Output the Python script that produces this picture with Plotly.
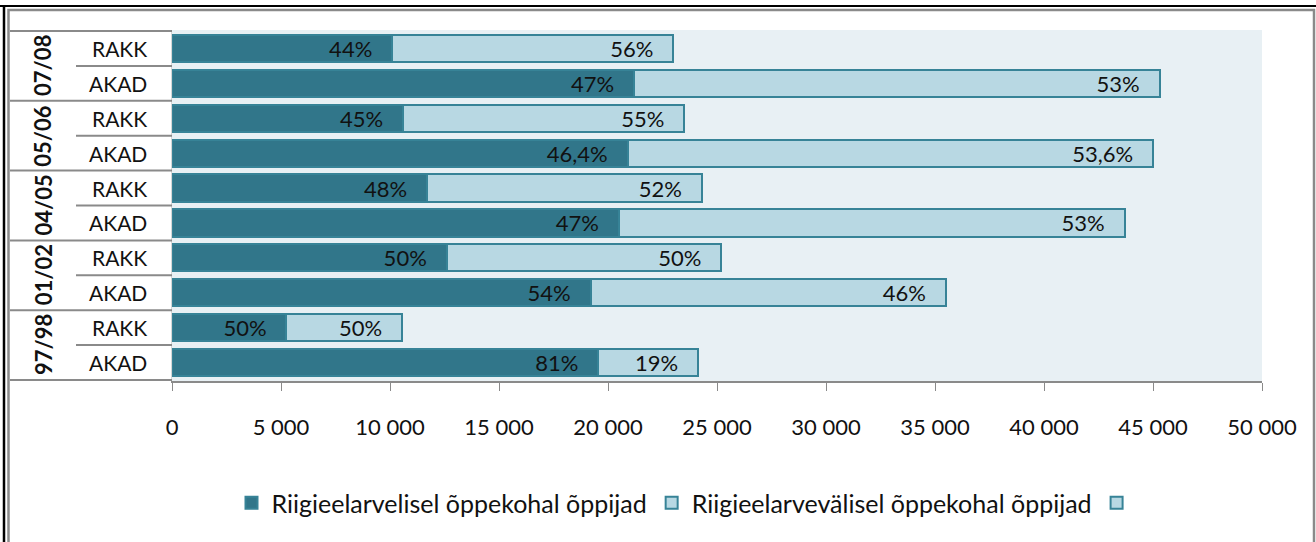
import plotly.graph_objects as go

# Data ------------------------------------------------------------
years = ['07/08', '05/06', '04/05', '01/02', '97/98']
programmes = ['RAKK', 'AKAD']
state_funded = [10100, 21200, 10600, 20900, 11700, 20500, 12600, 19200, 5250, 19550]
non_state = [12900, 24100, 12900, 24100, 12600, 23200, 12600, 16300, 5300, 4580]
state_pct = ['44%', '47%', '45%', '46,4%', '48%', '47%', '50%', '54%', '50%', '81%']
non_state_pct = ['56%', '53%', '55%', '53,6%', '52%', '53%', '50%', '46%', '50%', '19%']
series_names = ['Riigieelarvelisel õppekohal õppijad', 'Riigieelarvevälisel õppekohal õppijad', ' ']
x_ticks = list(range(0, 50001, 5000))

dark = '#31768a'
light = '#b8d8e3'
edge = '#378397'
grey = '#8a8a8a'
font = 'Lato, "Open Sans", sans-serif'

rows = [f'{y} {p}' for y in years for p in programmes]
row_prog = [p for y in years for p in programmes]
pad = '\u00a0\u00a0\u00a0'

fig = go.Figure()
for vals, pct, color, name in [(state_funded, state_pct, dark, series_names[0]),
                               (non_state, non_state_pct, light, series_names[1])]:
    fig.add_bar(
        y=rows, x=vals, orientation='h', name=name,
        marker=dict(color=color, line=dict(color=edge, width=2)),
        text=[p + pad for p in pct], textposition='inside',
        insidetextanchor='end', textangle=0, constraintext='none',
        textfont=dict(color='#111111', size=22, family=font),
        cliponaxis=False)

# empty third legend entry
fig.add_bar(y=[None], x=[None], orientation='h', name=series_names[2],
            marker=dict(color=light, line=dict(color=edge, width=2)))

# table-like category labels on the left -------------------------
px = lambda p: (p - 172) / 1090.0
py = lambda p: (381 - p) / 351.0

shapes = []
for i in range(len(rows) + 1):
    pos = i - 0.5
    x0 = px(10) if i % 2 == 0 else px(76)
    shapes.append(dict(type='line', xref='paper', yref='y', x0=x0, x1=0,
                       y0=pos, y1=pos, line=dict(color=grey, width=2)))

annotations = []
for g, yr in enumerate(years):
    annotations.append(dict(xref='paper', yref='y', x=px(43), y=g * 2 + 0.5,
                            xanchor='center', yanchor='middle',
                            text=f'<b>{yr}</b>', textangle=-90, showarrow=False,
                            font=dict(size=22, family=font, color='#111111')))
for r, prog in zip(rows, row_prog):
    annotations.append(dict(xref='paper', yref='y', x=px(149), y=r, xanchor='right',
                            text=prog, showarrow=False,
                            font=dict(size=21, family=font, color='#111111')))

# outer frame
shapes += [
    dict(type='line', xref='paper', yref='paper', x0=px(0), x1=px(1316), y0=py(6), y1=py(6),
         line=dict(color='#000000', width=2)),
    dict(type='line', xref='paper', yref='paper', x0=px(4), x1=px(4), y0=py(5), y1=py(545),
         line=dict(color='#000000', width=2.5)),
    dict(type='rect', xref='paper', yref='paper', x0=px(8.5), x1=px(1314), y0=py(10), y1=py(560),
         line=dict(color=grey, width=2.5)),
]

fig.update_layout(
    width=1316, height=542,
    barmode='stack', bargap=0.22,
    separators=', ',
    paper_bgcolor='white', plot_bgcolor='#e8f0f4',
    margin=dict(l=172, r=54, t=30, b=161),
    font=dict(family=font, size=22, color='#111111'),
    shapes=shapes, annotations=annotations,
    showlegend=True,
    legend=dict(orientation='h', x=px(690), xanchor='center', y=py(503), yanchor='middle',
                font=dict(size=25, family=font), traceorder='normal', itemwidth=30,
                entrywidth=0),
)
fig.update_xaxes(range=[0, 50000], tickvals=x_ticks, tickformat=',d',
                 showgrid=False, zeroline=False,
                 showline=True, linecolor=grey, linewidth=2,
                 ticks='outside', ticklen=8, tickcolor=grey, tickwidth=1,
                 ticklabelstandoff=18, tickfont=dict(size=22, family=font))
fig.update_yaxes(autorange='reversed', showticklabels=False, showgrid=False,
                 zeroline=False, showline=True, linecolor='#d6d6d6', linewidth=1, ticks='')

fig.write_html('out.html', config={'displayModeBar': False},
               post_script="document.body.style.margin='0';")
